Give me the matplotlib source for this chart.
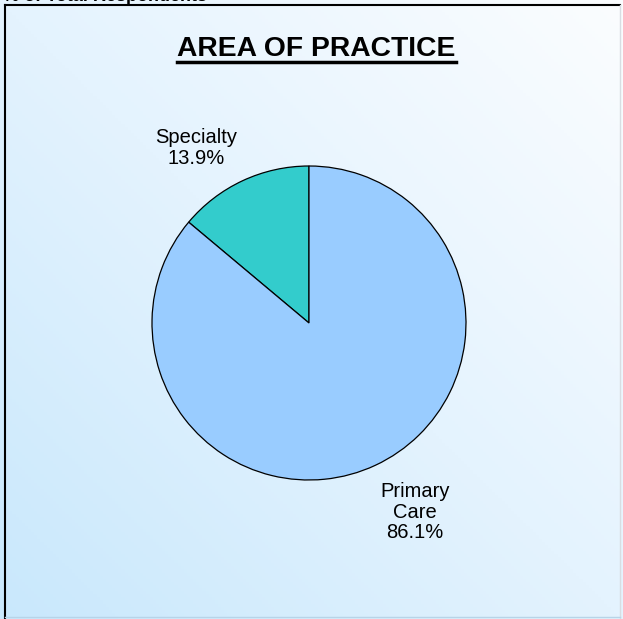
import numpy as np
import matplotlib
matplotlib.use("Agg")
import matplotlib.pyplot as plt
from matplotlib.colors import LinearSegmentedColormap

categories = ["Specialty", "Primary\nCare"]
values = [13.9, 86.1]
colors = ["#33cccc", "#99ccff"]
title = "AREA OF PRACTICE"
header = "% of Total Respondents"

W, H = 623, 619
fig = plt.figure(figsize=(W / 100, H / 100), dpi=100)

# gradient background
bg = fig.add_axes([0, 0, 1, 1])
bg.set_axis_off()
yy, xx = np.mgrid[0:1:200j, 0:1:200j]
t = (xx + yy) / 2.0  # 0 bottom-left -> 1 top-right
cmap = LinearSegmentedColormap.from_list("bg", ["#c9e8fc", "#e4f3fe", "#fbfdff"])
bg.imshow(t, cmap=cmap, origin="lower", extent=[0, W, 0, H], aspect="auto")
bg.set_xlim(0, W)
bg.set_ylim(0, H)
# border
bg.plot([5, 5], [1, H - 5], color="black", lw=1.5)
bg.plot([5, W - 3], [H - 5, H - 5], color="black", lw=1.5)
bg.plot([W - 3, W - 3], [1, H - 5], color="#d8dde2", lw=1)
bg.plot([5, W - 3], [2, 2], color="#b8d4e8", lw=1)

ax = fig.add_axes([0, 0, 1, 1])
ax.set_axis_off()
ax.set_xlim(0, W)
ax.set_ylim(0, H)
ax.set_aspect("equal")
cx, cy, r = 309, H - 323, 157
wedges, _ = ax.pie(values, colors=colors, startangle=90, counterclock=True,
                   center=(cx, cy), radius=r,
                   wedgeprops=dict(edgecolor="black", linewidth=0.9))
ax.set_xlim(0, W)
ax.set_ylim(0, H)

font = "Liberation Sans"
label_pos = [(196, 148), (415, 512)]
for cat, v, (lx, ly) in zip(categories, values, label_pos):
    ax.text(lx, H - ly, f"{cat}\n{v:.1f}%", ha="center", va="center",
            fontsize=14.5, family=font, linespacing=1.12)

fig.text(316.5 / W, 1 - 49 / H, title, ha="center", va="center",
         fontsize=20.3, fontweight="bold", family=font)
fig.add_artist(plt.Line2D([177 / W, 456 / W], [1 - 62 / H, 1 - 62 / H],
                          color="black", lw=2.5, transform=fig.transFigure))
fig.text(3 / W, 1 - 1 / H, header, ha="left", va="baseline",
         fontsize=13, fontweight="bold", family=font)

fig.savefig("out.png", dpi=100)
